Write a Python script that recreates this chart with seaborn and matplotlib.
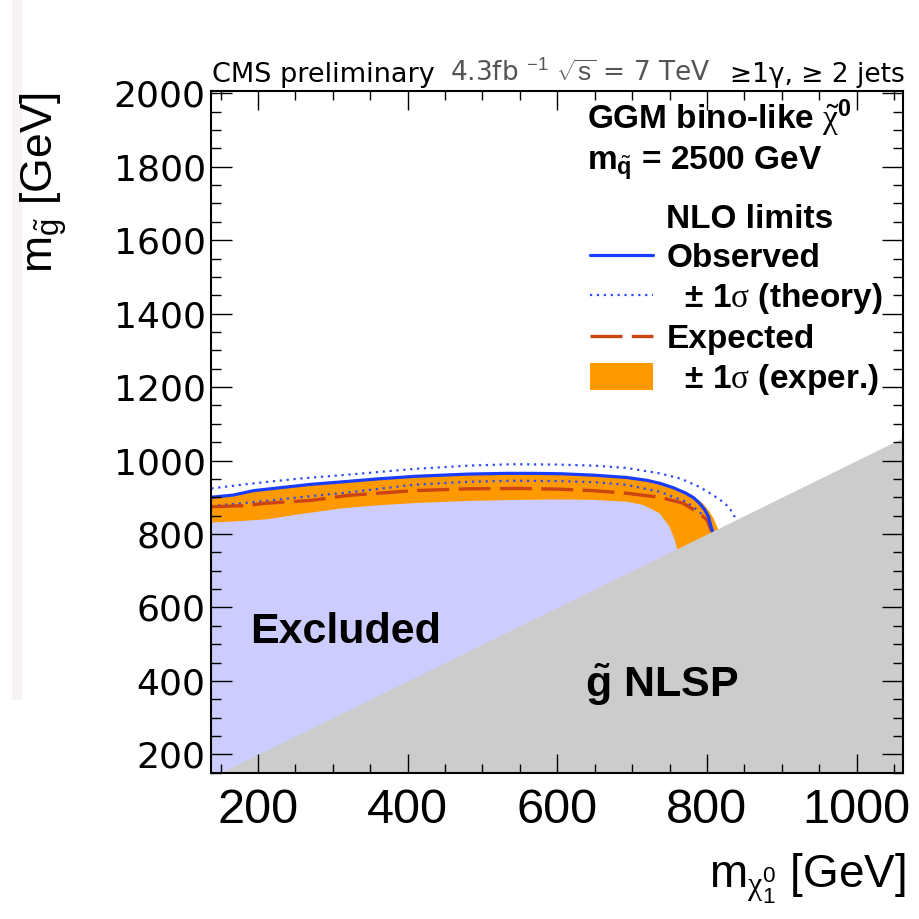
import numpy as np
import matplotlib
matplotlib.use("Agg")
import matplotlib.pyplot as plt
import seaborn as sns
from matplotlib.ticker import MultipleLocator
from matplotlib.lines import Line2D
from matplotlib.patches import Patch, Rectangle
from matplotlib import font_manager

# ---------------- data ----------------
x_range = [137.5, 1062.5]
y_range = [150.0, 2007.0]

# observed limit (solid blue)
obs_x = [137.5, 167, 194, 234, 270, 313, 360, 410, 480, 530, 570, 605, 650,
         692, 720, 737, 755, 772, 782, 790, 797, 802, 806, 812]
obs_y = [900, 906, 918, 927, 935, 942, 950, 957, 963, 965, 965, 964, 960,
         954, 946, 938, 926, 911, 899, 884, 866, 847, 816, 780]

# observed +/- 1 sigma theory (dotted blue)
th_up_x = [137.5, 190, 256, 323, 408, 480, 540, 600, 650, 692, 737, 766, 790,
           804, 815, 826, 833, 838, 846]
th_up_y = [924, 937, 951, 962, 977, 986, 990, 989, 986, 980, 965, 950, 928,
           911, 897, 879, 862, 843, 815]
th_dn_x = [137.5, 190, 256, 320, 408, 480, 540, 603, 650, 692, 737, 772, 790,
           801, 806, 812]
th_dn_y = [876, 886, 900, 913, 934, 942, 945, 944, 941, 934, 915, 888, 861,
           834, 814, 790]

# expected limit (dashed red)
exp_x = [137.5, 180, 212, 269, 320, 408, 480, 551, 603, 648, 692, 737, 768,
         790, 800, 804, 810]
exp_y = [874, 877, 884, 891, 905, 918, 923, 924, 922, 918, 911, 900, 884,
         856, 838, 818, 795]

# expected +/- 1 sigma experimental band (orange)
band_up_x = [137.5, 167, 194, 234, 270, 313, 360, 410, 480, 530, 570, 605, 650,
             692, 720, 737, 755, 772, 784, 795, 803, 809, 814, 820]
band_up_y = [898, 905, 917, 926, 934, 941, 949, 956, 962, 964, 964, 963, 960,
             955, 947, 940, 928, 914, 900, 882, 862, 842, 818, 790]
band_dn_x = [137.5, 167, 212, 256, 313, 360, 408, 480, 551, 603, 648, 692, 715,
             737, 750, 757, 760, 762]
band_dn_y = [831, 834, 840, 854, 870, 878, 884, 890, 893, 894, 893, 888, 879,
             856, 820, 784, 761, 740]

# kinematic boundary m_gluino = m_neutralino (gluino NLSP below)
nlsp_x = x_range
nlsp_y = x_range

x_major, x_minor = 200, 50
y_major, y_minor = 200, 50

# ---------------- style ----------------
sns.set_theme(style="white")
avail = {f.name for f in font_manager.fontManager.ttflist}
SANS = "Liberation Sans" if "Liberation Sans" in avail else "DejaVu Sans"
SERIF = "Liberation Serif" if "Liberation Serif" in avail else "DejaVu Serif"
NARROW = "Liberation Sans Narrow" if "Liberation Sans Narrow" in avail else SANS
plt.rcParams["font.family"] = [SANS, "DejaVu Sans"]
plt.rcParams["mathtext.fontset"] = "custom"
plt.rcParams["mathtext.rm"] = SANS
plt.rcParams["mathtext.it"] = SANS + ":italic"
plt.rcParams["mathtext.bf"] = SANS + ":bold"
plt.rcParams["mathtext.sf"] = SERIF
for k in ["text.color", "axes.labelcolor", "xtick.color", "ytick.color",
          "axes.edgecolor"]:
    plt.rcParams[k] = "black"

BLUE = "#1a3cff"
BLUE_DOT = "#2a4bff"
RED = "#cc4411"
ORANGE = "#ff9900"
LAVENDER = "#ccccff"
GREY = "#cccccc"

W = H = 919
fig = plt.figure(figsize=(9.19, 9.19), dpi=100)
fig.patch.set_facecolor("white")


def fx(px):
    return px / W


def fy(py):
    return 1 - py / H


# faint strip at the left edge of the reference screenshot
fig.patches.append(Rectangle((fx(12), fy(700)), 10 / W, 700 / H,
                             transform=fig.transFigure, color="#f7f3f3",
                             zorder=0, lw=0))

ax = fig.add_axes([fx(211.3), fy(772.7), fx(903.3) - fx(211.3),
                   fy(90.7) - fy(772.7)])
ax.set_facecolor("white")
ax.set_axisbelow(False)

# excluded region (under observed)
ax.fill_between(obs_x, obs_y, y_range[0], color=LAVENDER, lw=0, zorder=1.0)
# experimental band
ax.fill(list(band_up_x) + list(band_dn_x[::-1]),
        list(band_up_y) + list(band_dn_y[::-1]),
        color=ORANGE, lw=0, zorder=1.1)

sns.lineplot(x=th_up_x, y=th_up_y, ax=ax, color=BLUE_DOT, lw=1.6,
             linestyle=(0, (1, 2.1)), sort=False, estimator=None, zorder=1.3)
sns.lineplot(x=th_dn_x, y=th_dn_y, ax=ax, color=BLUE_DOT, lw=1.6,
             linestyle=(0, (1, 2.1)), sort=False, estimator=None, zorder=1.3)
sns.lineplot(x=exp_x, y=exp_y, ax=ax, color=RED, lw=2.4,
             linestyle=(0, (9.6, 2.8)), sort=False, estimator=None, zorder=1.3)
sns.lineplot(x=obs_x, y=obs_y, ax=ax, color=BLUE, lw=2.3, sort=False,
             estimator=None, zorder=1.4)

# gluino NLSP region
ax.fill_between(nlsp_x, nlsp_y, y_range[0], color=GREY, lw=0, zorder=2.0)

ax.set_xlim(*x_range)
ax.set_ylim(*y_range)
ax.xaxis.set_major_locator(MultipleLocator(x_major))
ax.xaxis.set_minor_locator(MultipleLocator(x_minor))
ax.yaxis.set_major_locator(MultipleLocator(y_major))
ax.yaxis.set_minor_locator(MultipleLocator(y_minor))
ax.tick_params(which="both", direction="in", top=True, right=True,
               bottom=True, left=True, color="black", width=1.0,
               labelcolor="black")
ax.tick_params(axis="x", which="major", length=13.7, labelsize=35, pad=11,
               labelfontfamily=NARROW)
ax.tick_params(axis="x", which="minor", length=6.5)
ax.tick_params(axis="y", which="major", length=15, labelsize=26, pad=4,
               labelfontfamily="DejaVu Sans")
ax.tick_params(axis="y", which="minor", length=7.5)
for s in ax.spines.values():
    s.set_linewidth(1.5)
    s.set_color("black")
    s.set_zorder(10)
ax.set_xlabel("")
ax.set_ylabel("")

# axis titles
fig.text(fx(905), fy(888), r"m$_{\mathsf{\chi}^{0}_{1}}$ [GeV]", ha="right",
         va="baseline", fontsize=33)
fig.text(fx(44), fy(92), r"m$_{\tilde{\mathrm{g}}}$ [GeV]", ha="center",
         va="top", rotation=90, fontsize=32)

# header
fig.text(fx(212), fy(82), "CMS preliminary", fontsize=19.5,
         family="DejaVu Sans", va="baseline")
fig.text(fx(450), fy(82), r"4.3fb $^{-1}$ $\sqrt{\mathrm{s}}$ = 7 TeV",
         fontsize=19, family="DejaVu Sans", color="#555555", va="baseline")
fig.text(fx(905), fy(82), "≥1γ, ≥ 2 jets", fontsize=19, family="DejaVu Sans",
         ha="right", va="baseline")

# annotations
fig.text(fx(587), fy(129), r"GGM bino-like $\tilde{\mathsf{\chi}}^{\mathbf{0}}$",
         fontsize=24, weight="bold", va="baseline", zorder=20)
fig.text(fx(587), fy(170), r"m$_{\tilde{\mathbf{q}}}$ = 2500 GeV",
         fontsize=24, weight="bold", va="baseline", zorder=20)
fig.text(fx(250), fy(643), "Excluded", fontsize=31, weight="bold",
         va="baseline", zorder=20)
fig.text(fx(585), fy(697), r"$\mathbf{\tilde{g}}$ NLSP", fontsize=31,
         weight="bold", va="baseline", zorder=20)

handles = [
    Line2D([], [], color="none"),
    Line2D([], [], color=BLUE, lw=2.3),
    Line2D([], [], color=BLUE_DOT, lw=1.6, linestyle=(0, (1, 2.1))),
    Line2D([], [], color=RED, lw=2.4, linestyle=(0, (9.6, 2.8))),
    Patch(facecolor=ORANGE, edgecolor="none"),
]
labels = ["NLO limits", "Observed", r"  ± 1$\mathsf{\sigma}$ (theory)",
          "Expected", r"  ± 1$\mathsf{\sigma}$ (exper.)"]
leg = ax.legend(handles, labels, loc="upper left",
                bbox_to_anchor=(fx(590), fy(203)),
                bbox_transform=fig.transFigure, frameon=False,
                prop=dict(family=SANS, weight="bold", size=24),
                handlelength=1.9, handletextpad=0.39, labelspacing=0.21,
                borderpad=0, borderaxespad=0, handleheight=0.87)
leg.set_zorder(20)

fig.savefig("out.png", dpi=100, facecolor="white")
